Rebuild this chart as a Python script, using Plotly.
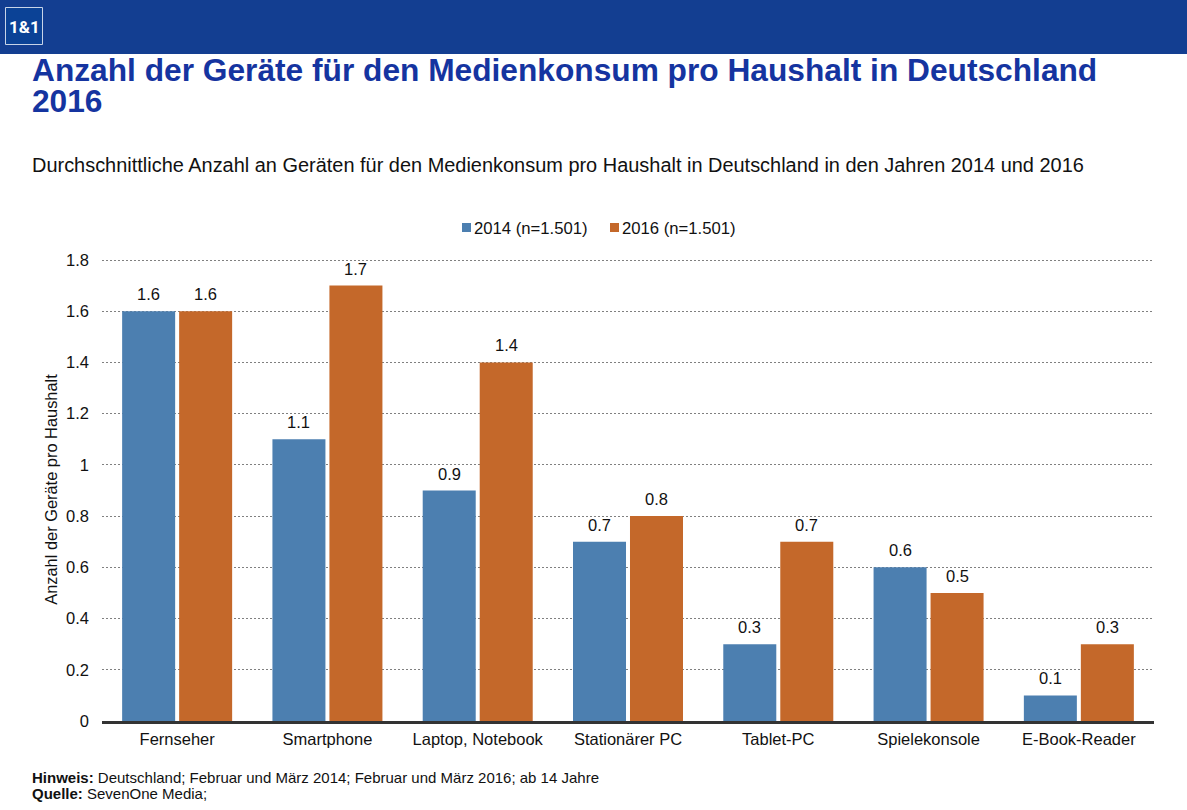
import plotly.graph_objects as go

# chart values
categories = ["Fernseher", "Smartphone", "Laptop, Notebook", "Stationärer PC",
              "Tablet-PC", "Spielekonsole", "E-Book-Reader"]
values_2014 = [1.6, 1.1, 0.9, 0.7, 0.3, 0.6, 0.1]
values_2016 = [1.6, 1.7, 1.4, 0.8, 0.7, 0.5, 0.3]
y_ticks = [0, 0.2, 0.4, 0.6, 0.8, 1, 1.2, 1.4, 1.6, 1.8]

W, H = 1187, 810
L, R, T, B = 102, 33, 258, 89
FONT = "Liberation Sans, Arial, sans-serif"
TEXT = "#111111"
BLUE = "#4C7FB0"
ORANGE = "#C4682A"
HEADER = "#133E91"
TITLE_BLUE = "#1534A0"
LABEL_SIZE = 16.5
BAR_OFFSET = 28.5


# pixel position in the window to paper coordinates
def px(x):
    return (x - L) / (W - L - R)


def py(y):
    return (H - B - y) / (H - T - B)


# free text placed by window pixels (annotation box adds 2px padding)
def note(text, x, y, size, color=TEXT, family=FONT, anchor="left"):
    return dict(text=text, xref="paper", yref="paper", x=px(x), y=py(y),
                xanchor=anchor, yanchor="middle", showarrow=False,
                font=dict(size=size, color=color, family=family))


def box(x0, x1, y0, y1, fill, line=None):
    return dict(type="rect", xref="paper", yref="paper", x0=px(x0), x1=px(x1),
                y0=py(y0), y1=py(y1), fillcolor=fill, layer="below",
                line=dict(width=1, color=line) if line else dict(width=0))


fig = go.Figure()
annotations = []
series = [("2014 (n=1.501)", values_2014, BLUE, -BAR_OFFSET),
          ("2016 (n=1.501)", values_2016, ORANGE, BAR_OFFSET)]
for name, vals, col, shift in series:
    fig.add_trace(go.Bar(x=categories, y=vals, name=name,
                         marker=dict(color=col, line=dict(width=0))))
    # value labels sit higher above the bars than plotly's outside text
    for cat, v in zip(categories, vals):
        annotations.append(dict(text=f"{v:g}", x=cat, y=v, xref="x", yref="y",
                                xshift=shift, yshift=17, yanchor="middle", showarrow=False,
                                font=dict(size=LABEL_SIZE, color=TEXT, family=FONT)))

annotations += [
    note("<b>1&amp;1</b>", 24, 27, 17, color="white", family="Roboto", anchor="center"),
    note("<b>2016</b>", 30, 101, 31.7, color=TITLE_BLUE),
    note("Durchschnittliche Anzahl an Geräten für den Medienkonsum pro Haushalt in Deutschland in den Jahren 2014 und 2016",
         30, 165, 19.95),
    note("2014 (n=1.501)", 472, 228, 16.7),
    note("2016 (n=1.501)", 620, 228, 16.7),
    note("<b>Hinweis:</b> Deutschland; Februar und März 2014; Februar und März 2016; ab 14 Jahre",
         30, 777, 15),
    note("<b>Quelle:</b> SevenOne Media;", 30, 793, 15),
]

fig.update_layout(
    width=W, height=H,
    margin=dict(l=L, r=R, t=T, b=B, autoexpand=False),
    paper_bgcolor="white", plot_bgcolor="white",
    font=dict(family=FONT, size=LABEL_SIZE, color=TEXT),
    barmode="group", bargap=0.2415, bargroupgap=0.07,
    showlegend=False,
    title=dict(
        text="<b>Anzahl der Geräte für den Medienkonsum pro Haushalt in Deutschland</b>",
        x=32 / W, xref="container", xanchor="left",
        y=1 - 70 / H, yref="container", yanchor="middle",
        font=dict(size=31.7, color=TITLE_BLUE, family=FONT),
    ),
    xaxis=dict(
        showgrid=False, showline=True, linecolor="#333333", linewidth=3,
        ticks="", tickfont=dict(size=LABEL_SIZE), range=[-0.5, 6.5], ticklabelstandoff=1,
    ),
    yaxis=dict(
        # slightly past 1.8 so the top gridline is not culled at the axis end
        range=[0, 1.8078], tickvals=y_ticks, ticktext=[f"{v:g}" for v in y_ticks],
        showgrid=True, gridcolor="#808080", griddash="2px,2px", gridwidth=1,
        zeroline=False, showline=False, ticks="", tickfont=dict(size=LABEL_SIZE),
        ticklabelstandoff=12,
        title=dict(text="Anzahl der Geräte pro Haushalt", font=dict(size=16.4), standoff=4),
    ),
    shapes=[
        box(0, W, 0, 54, HEADER),
        box(5.5, 42.5, 7.5, 44.5, "#0B4296", line="#C8D4E8"),
        box(462, 471, 223, 232, BLUE),
        box(610, 619, 223, 232, ORANGE),
    ],
    annotations=annotations,
)

fig.write_html("out.html", config=dict(displayModeBar=False),
               post_script="document.body.style.margin='0';")
